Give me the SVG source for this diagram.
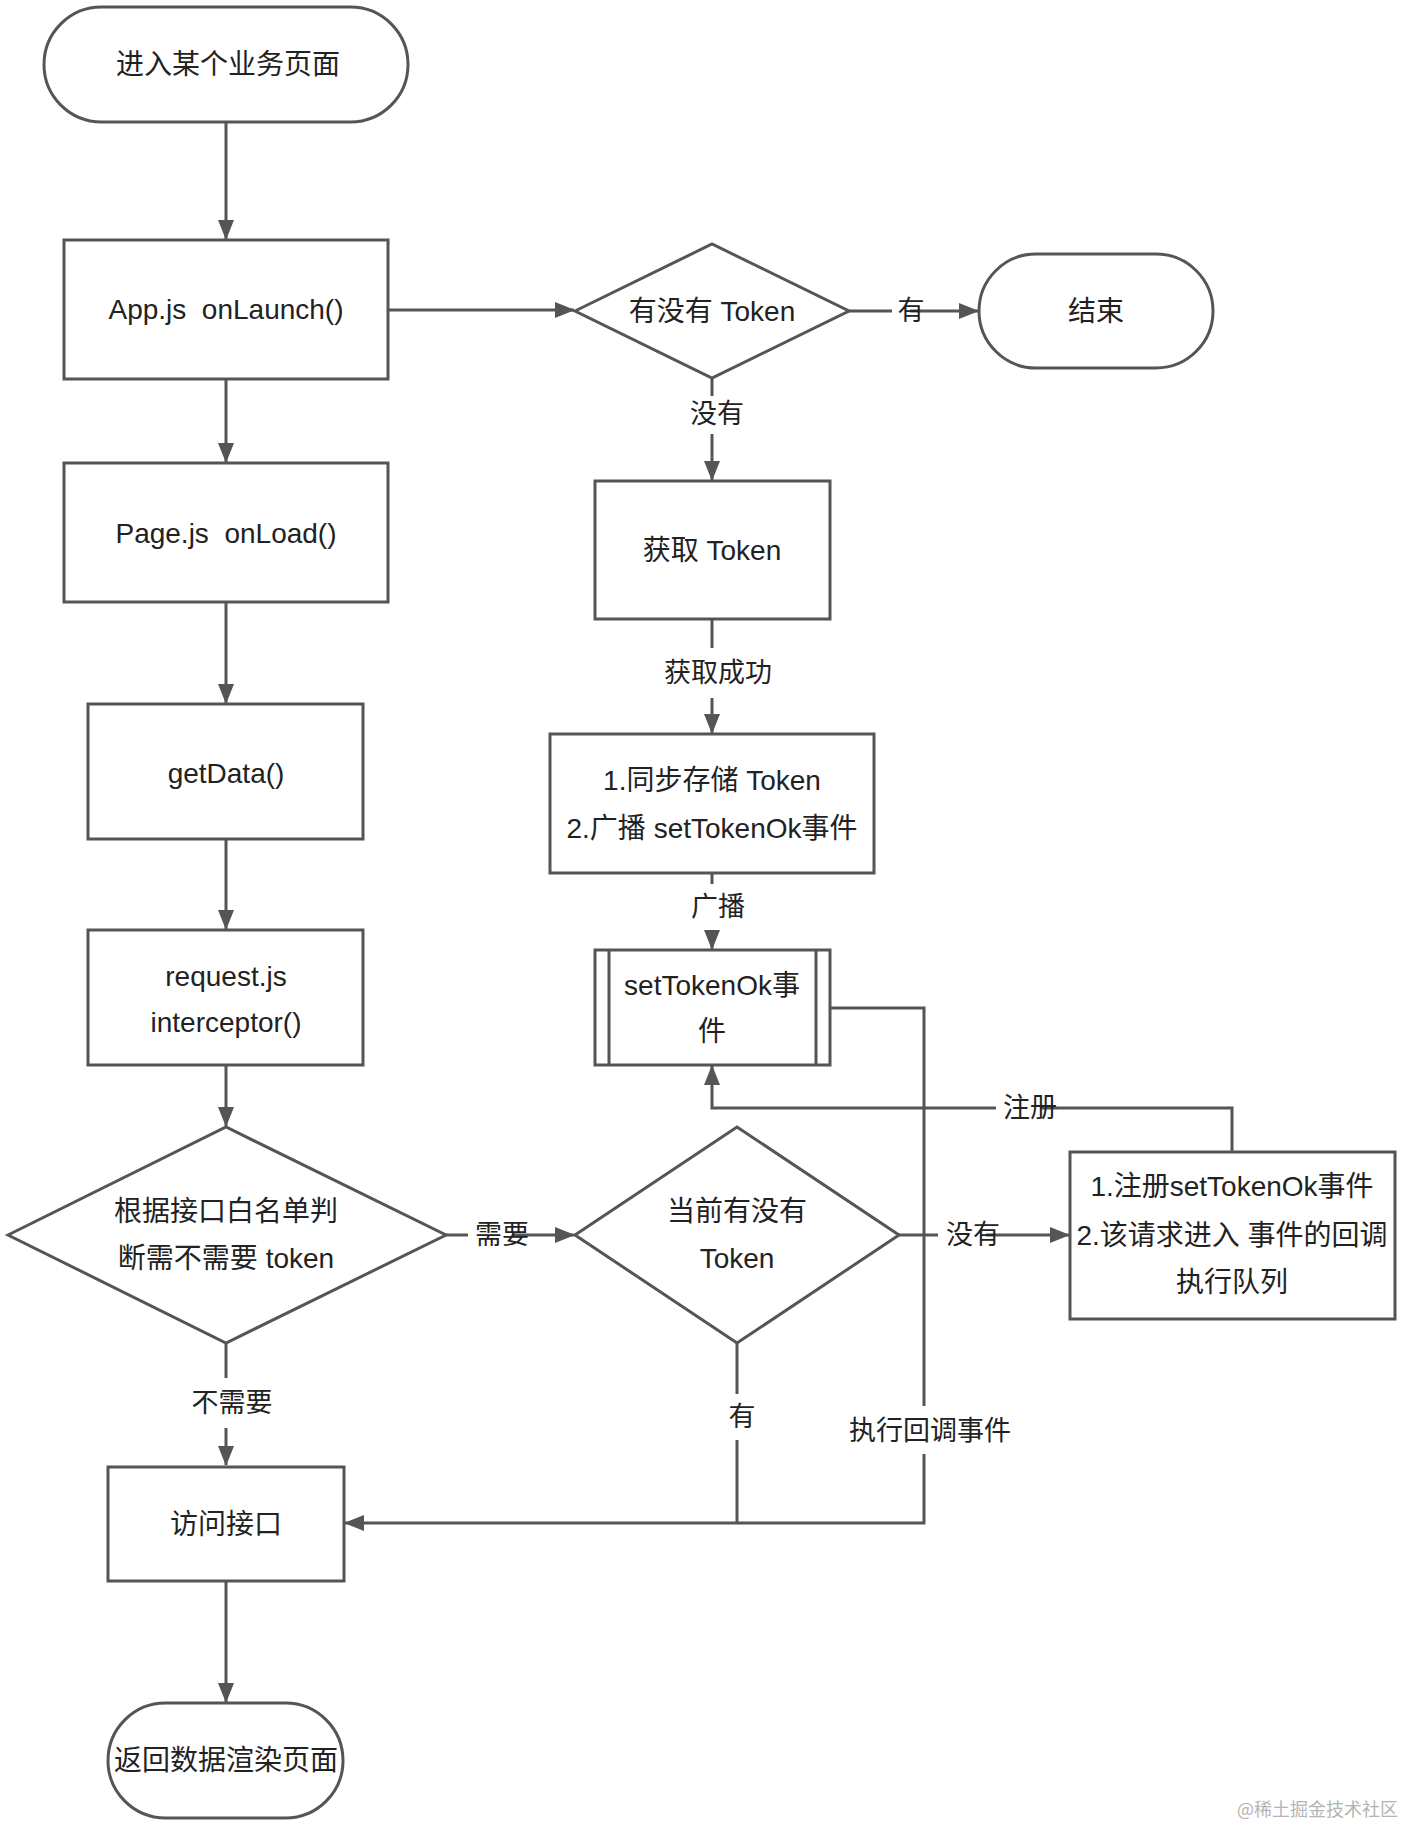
<svg xmlns="http://www.w3.org/2000/svg" width="1404" height="1826" viewBox="0 0 1404 1826">
<style>
.shape{fill:#fff;stroke:#555;stroke-width:3}
.line{fill:none;stroke:#555;stroke-width:3}
.arrow{fill:none;stroke:#555;stroke-width:3;marker-end:url(#ah)}
.t{font-family:"Liberation Sans","Noto Sans CJK SC",sans-serif;font-size:28px;fill:#222;text-anchor:middle;dominant-baseline:central}
.lbl{font-family:"Liberation Sans","Noto Sans CJK SC",sans-serif;font-size:27px;fill:#222;text-anchor:middle;dominant-baseline:central}
.bg{fill:#fff}
.wm{font-family:"Noto Sans CJK SC",sans-serif;font-size:18px;fill:#b4b4b4;text-anchor:end;dominant-baseline:central}
</style>
<defs>
<marker id="ah" markerUnits="userSpaceOnUse" markerWidth="20" markerHeight="16" refX="19" refY="8" orient="auto">
<path d="M0,0 L20,8 L0,16 Z" fill="#555"/>
</marker>
</defs>
<rect width="1404" height="1826" fill="#fff"/>
<g id="connectors">
<path class="arrow" d="M226,122 V239"/>
<path class="arrow" d="M388,310 H574"/>
<path class="arrow" d="M849,311 H978"/>
<path class="arrow" d="M712,378 V480"/>
<path class="arrow" d="M712,619 V733"/>
<path class="arrow" d="M712,873 V949"/>
<path class="arrow" d="M226,379 V462"/>
<path class="arrow" d="M226,602 V703"/>
<path class="arrow" d="M226,839 V929"/>
<path class="arrow" d="M226,1065 V1126"/>
<path class="arrow" d="M446,1235 H574"/>
<path class="arrow" d="M899,1235 H1069"/>
<path class="arrow" d="M1232,1152 V1108 H712 V1066"/>
<path class="arrow" d="M830,1008 H924 V1523 H345"/>
<path class="line" d="M737,1343 V1523"/>
<path class="arrow" d="M226,1343 V1465"/>
<path class="arrow" d="M226,1581 V1702"/>
<rect class="bg" x="892" y="295" width="18" height="32"/>
<text class="lbl" x="911" y="311">有</text>
<rect class="bg" x="690" y="396" width="50" height="38"/>
<text class="lbl" x="717" y="414">没有</text>
<rect class="bg" x="660" y="648" width="116" height="50"/>
<text class="lbl" x="718" y="673">获取成功</text>
<rect class="bg" x="690" y="884" width="56" height="46"/>
<text class="lbl" x="718" y="907">广播</text>
<rect class="bg" x="468" y="1219" width="44" height="32"/>
<text class="lbl" x="502" y="1235">需要</text>
<rect class="bg" x="938" y="1219" width="48" height="32"/>
<text class="lbl" x="973" y="1235">没有</text>
<rect class="bg" x="996" y="1092" width="44" height="32"/>
<text class="lbl" x="1030" y="1108">注册</text>
<rect class="bg" x="720" y="1394" width="40" height="46"/>
<text class="lbl" x="742" y="1417">有</text>
<rect class="bg" x="846" y="1406" width="168" height="48"/>
<text class="lbl" x="930" y="1431">执行回调事件</text>
<rect class="bg" x="186" y="1378" width="92" height="50"/>
<text class="lbl" x="232" y="1403">不需要</text>
</g>
<g id="start">
<rect class="shape" x="44" y="7" width="364" height="115" rx="57.5"/>
<text class="t" x="228" y="64">进入某个业务页面</text>
</g>
<g id="app">
<rect class="shape" x="64" y="240" width="324" height="139"/>
<text class="t" x="226" y="309" xml:space="preserve">App.js  onLaunch()</text>
</g>
<g id="hasToken">
<polygon class="shape" points="575,311 712,244 849,311 712,378"/>
<text class="t" x="712" y="311">有没有 Token</text>
</g>
<g id="end">
<rect class="shape" x="979" y="254" width="234" height="114" rx="57"/>
<text class="t" x="1096" y="311">结束</text>
</g>
<g id="getToken">
<rect class="shape" x="595" y="481" width="235" height="138"/>
<text class="t" x="712" y="550">获取 Token</text>
</g>
<g id="store">
<rect class="shape" x="550" y="734" width="324" height="139"/>
<text class="t" x="712" y="780">1.同步存储 Token</text>
<text class="t" x="712" y="828">2.广播 setTokenOk事件</text>
</g>
<g id="event">
<rect class="shape" x="595" y="950" width="235" height="115"/>
<path class="line" d="M609,950 V1065 M816,950 V1065"/>
<text class="t" x="712" y="985">setTokenOk事</text>
<text class="t" x="712" y="1031">件</text>
</g>
<g id="page">
<rect class="shape" x="64" y="463" width="324" height="139"/>
<text class="t" x="226" y="533" xml:space="preserve">Page.js  onLoad()</text>
</g>
<g id="getData">
<rect class="shape" x="88" y="704" width="275" height="135"/>
<text class="t" x="226" y="773">getData()</text>
</g>
<g id="request">
<rect class="shape" x="88" y="930" width="275" height="135"/>
<text class="t" x="226" y="976">request.js</text>
<text class="t" x="226" y="1022">interceptor()</text>
</g>
<g id="needToken">
<polygon class="shape" points="8,1235 226,1127 446,1235 226,1343"/>
<text class="t" x="226" y="1211">根据接口白名单判</text>
<text class="t" x="226" y="1258">断需不需要 token</text>
</g>
<g id="currentToken">
<polygon class="shape" points="575,1235 737,1127 899,1235 737,1343"/>
<text class="t" x="737" y="1211">当前有没有</text>
<text class="t" x="737" y="1258">Token</text>
</g>
<g id="register">
<rect class="shape" x="1070" y="1152" width="325" height="167"/>
<text class="t" x="1232" y="1186">1.注册setTokenOk事件</text>
<text class="t" x="1232" y="1235">2.该请求进入 事件的回调</text>
<text class="t" x="1232" y="1282">执行队列</text>
</g>
<g id="access">
<rect class="shape" x="108" y="1467" width="236" height="114"/>
<text class="t" x="226" y="1524">访问接口</text>
</g>
<g id="render">
<rect class="shape" x="108" y="1703" width="235" height="115" rx="57.5"/>
<text class="t" x="226" y="1760">返回数据渲染页面</text>
</g>
<text class="wm" x="1398" y="1808">@稀土掘金技术社区</text>
</svg>
